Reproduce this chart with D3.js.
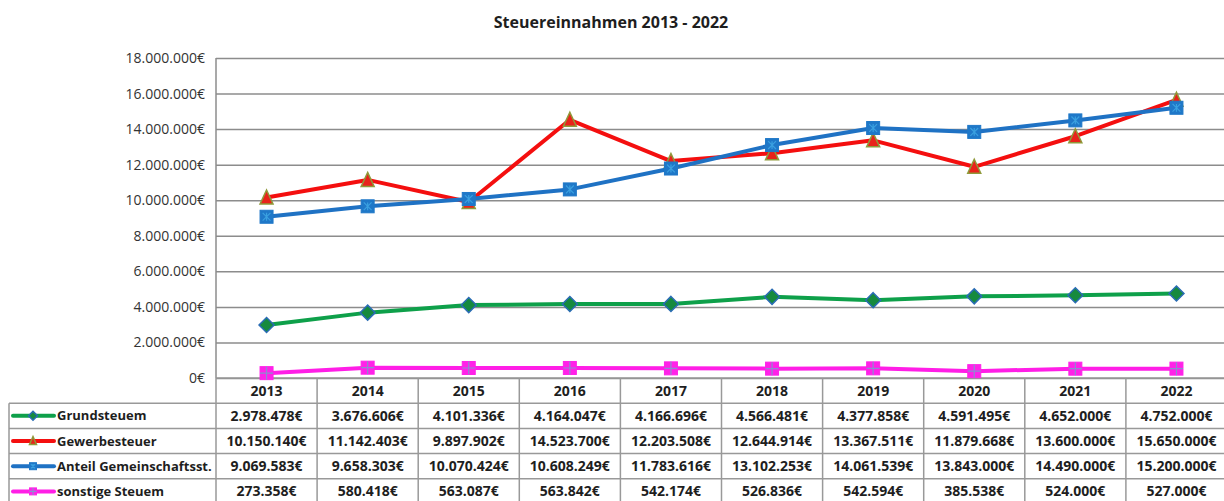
<!DOCTYPE html>
<html>
<head>
<meta charset="utf-8">
<script src="https://cdn.jsdelivr.net/npm/d3@7"></script>
<style>
  html, body { margin: 0; padding: 0; background: #fff; }
  svg { display: block; }
</style>
</head>
<body>
<div id="chart"></div>
<script>
/* Steuereinnahmen 2013 - 2022: line chart with data table */

const years = ['2013', '2014', '2015', '2016', '2017', '2018', '2019', '2020', '2021', '2022'];
const grundsteuer = [2978478, 3676606, 4101336, 4164047, 4166696, 4566481, 4377858, 4591495, 4652000, 4752000];
const gewerbesteuer = [10150140, 11142403, 9897902, 14523700, 12203508, 12644914, 13367511, 11879668, 13600000, 15650000];
const gemeinschaft = [9069583, 9658303, 10070424, 10608249, 11783616, 13102253, 14061539, 13843000, 14490000, 15200000];
const sonstige = [273358, 580418, 563087, 563842, 542174, 526836, 542594, 385538, 524000, 527000];
const seriesNames = ['Grundsteuem', 'Gewerbesteuer', 'Anteil Gemeinschaftsst.', 'sonstige Steuem'];
const yTicks = [0, 2000000, 4000000, 6000000, 8000000, 10000000, 12000000, 14000000, 16000000, 18000000];

const W = 1224, H = 501;
const font = "'Open Sans', 'Noto Sans', sans-serif";
const gridColor = '#8c8c8c';
const textColor = '#1e1e1e';

const series = [
  { name: seriesNames[0], values: grundsteuer, color: '#0ea04a', marker: 'diamond', mFill: '#168a3e', mStroke: '#2a6cb4' },
  { name: seriesNames[1], values: gewerbesteuer, color: '#f40f0f', marker: 'triangle', mFill: '#e8231b', mStroke: '#8f9a3a' },
  { name: seriesNames[2], values: gemeinschaft, color: '#1f72c4', marker: 'squareX', mFill: '#1f78c8', mStroke: '#3aa0e0' },
  { name: seriesNames[3], values: sonstige, color: '#ff1ee6', marker: 'squarePlus', mFill: '#ff22e8', mStroke: '#8c8cd0' },
];

const de = d3.formatLocale({ decimal: ',', thousands: '.', grouping: [3], currency: ['', '€'] });
const fmt = v => de.format(',.0f')(v) + '€';

const svg = d3.select('#chart').append('svg')
  .attr('width', W).attr('height', H)
  .attr('font-family', font);

const x = d3.scaleBand().domain(years).range([216, 1227]);
const y = d3.scaleLinear().domain([0, 18000000]).range([378, 58]);
const cx = d => x(d) + x.bandwidth() / 2;

// ─── Title ───
svg.append('text')
  .attr('x', 611).attr('y', 28)
  .attr('text-anchor', 'middle')
  .attr('font-size', '16px').attr('font-weight', 'bold')
  .attr('fill', textColor)
  .text('Steuereinnahmen 2013 - 2022');

// ─── Gridlines + y labels ───
const yAxis = d3.axisLeft(y).tickValues(yTicks).tickSize(-(x.range()[1] - x.range()[0])).tickFormat(fmt).tickPadding(11);
const ga = svg.append('g').attr('transform', 'translate(216,0)').call(yAxis);
ga.select('.domain').remove();
ga.selectAll('.tick line').attr('stroke', gridColor).attr('stroke-width', 1.5);
ga.selectAll('.tick text').attr('font-size', '14px').attr('fill', '#333').attr('font-family', font);

svg.append('line')
  .attr('x1', 216).attr('x2', 216).attr('y1', y(18000000)).attr('y2', y(0))
  .attr('stroke', gridColor).attr('stroke-width', 1.5);

// ─── Data table ───
const rowH = 25.2;
const tableTop = y(0);
const rowY = i => tableTop + rowH * i;
const tbl = svg.append('g').attr('stroke', '#999').attr('stroke-width', 1.5);

// column borders
years.forEach(yr => {
  tbl.append('line').attr('x1', x(yr)).attr('x2', x(yr)).attr('y1', tableTop).attr('y2', H);
});
tbl.append('line').attr('x1', x.range()[1]).attr('x2', x.range()[1]).attr('y1', tableTop).attr('y2', H);
tbl.append('line').attr('x1', 9).attr('x2', 9).attr('y1', rowY(1)).attr('y2', H);
// row borders
tbl.append('line').attr('x1', 216).attr('x2', x.range()[1]).attr('y1', rowY(0)).attr('y2', rowY(0));
for (let i = 1; i <= 4; i++) {
  tbl.append('line').attr('x1', 9).attr('x2', x.range()[1]).attr('y1', rowY(i)).attr('y2', rowY(i));
}

// year header
svg.append('g').selectAll('text').data(years).join('text')
  .attr('x', d => cx(d)).attr('y', rowY(0) + rowH / 2)
  .attr('dy', '0.35em').attr('text-anchor', 'middle')
  .attr('font-size', '14px').attr('font-weight', 'bold').attr('fill', textColor)
  .text(d => d);

// marker shapes
function drawMarker(g, s, px, py, size) {
  const h = size / 2;
  const m = g.append('g').attr('transform', `translate(${px},${py})`);
  if (s.marker === 'diamond') {
    m.append('path').attr('d', `M0,${-h - 1}L${h + 1},0L0,${h + 1}L${-h - 1},0Z`)
      .attr('fill', s.mFill).attr('stroke', s.mStroke).attr('stroke-width', 1.5);
  } else if (s.marker === 'triangle') {
    m.append('path').attr('d', `M0,${-h - 1}L${h},${h}L${-h},${h}Z`)
      .attr('fill', s.mFill).attr('stroke', s.mStroke).attr('stroke-width', 1.5);
  } else {
    m.append('rect').attr('x', -h).attr('y', -h).attr('width', size).attr('height', size)
      .attr('fill', s.mFill).attr('stroke', s.mFill).attr('stroke-width', 1);
    const k = h * 0.6;
    const p = s.marker === 'squareX'
      ? `M${-k},${-k}L${k},${k}M${k},${-k}L${-k},${k}M0,${-k}L0,${k}`
      : `M0,${-h}L0,${h}M${-h},0L${h},0`;
    m.append('path').attr('d', p).attr('stroke', s.mStroke).attr('stroke-width', 1.2).attr('fill', 'none');
  }
}

series.forEach((s, i) => {
  const ry = rowY(i + 1) + rowH / 2;
  // legend key
  svg.append('line').attr('x1', 13).attr('x2', 54).attr('y1', ry).attr('y2', ry)
    .attr('stroke', s.color).attr('stroke-width', 4).attr('stroke-linecap', 'round');
  drawMarker(svg, s, 33, ry, 7);
  svg.append('text')
    .attr('x', 57).attr('y', ry).attr('dy', '0.35em')
    .attr('font-size', '13px').attr('font-weight', 'bold').attr('fill', textColor)
    .text(s.name);
  // values
  svg.append('g').selectAll('text').data(s.values).join('text')
    .attr('x', (d, j) => cx(years[j])).attr('y', ry).attr('dy', '0.35em')
    .attr('text-anchor', 'middle')
    .attr('font-size', '14px').attr('font-weight', 'bold').attr('fill', textColor)
    .text(d => fmt(d));
});

// ─── Lines ───
const line = d3.line().x((d, j) => cx(years[j])).y(d => y(d));
series.forEach(s => {
  svg.append('path').attr('d', line(s.values))
    .attr('fill', 'none').attr('stroke', s.color).attr('stroke-width', 4)
    .attr('stroke-linejoin', 'round');
});
series.forEach(s => {
  s.values.forEach((v, j) => drawMarker(svg, s, cx(years[j]), y(v), 13));
});
</script>
</body>
</html>
